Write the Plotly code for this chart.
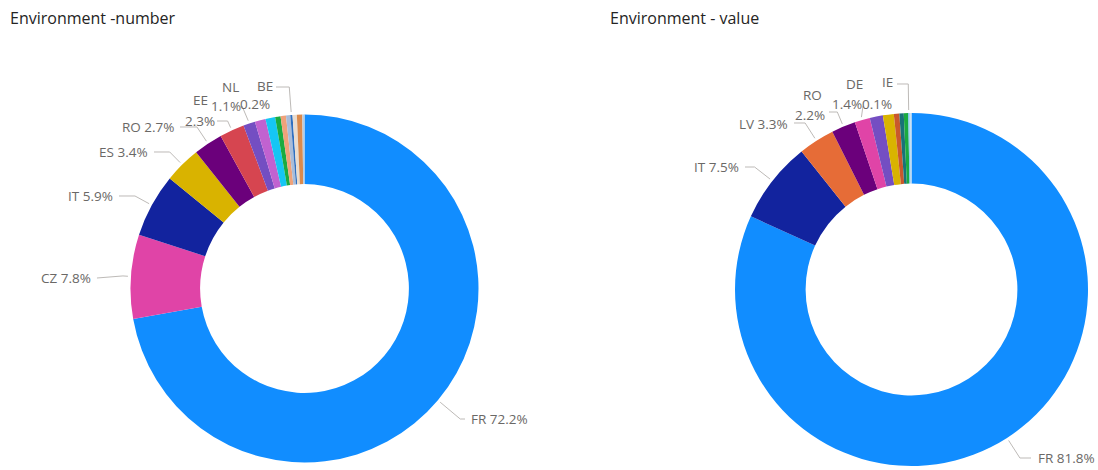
import math
import plotly.graph_objects as go

W, H = 1098, 470

# ---- Environment - number (share of projects, %) ----
num_codes = ["FR", "CZ", "IT", "ES", "RO", "EE", "NL", "PL", "PT", "SK",
             "HU", "AT", "BE", "LT", "LV", "SI"]
num_values = [72.2, 7.8, 5.9, 3.4, 2.7, 2.3, 1.1, 1.0, 0.9, 0.5,
              0.5, 0.4, 0.2, 0.4, 0.5, 0.2]
num_colors = ["#118DFF", "#E044A7", "#12239E", "#D9B300", "#6B007B", "#D64550",
              "#744EC2", "#C162D0", "#15C6F4", "#1AAB40", "#EFA27A", "#A9BCD8",
              "#2F6FC0", "#E9DCCF", "#DB8A4C", "#B9CCE0"]

# ---- Environment - value (share of amount, %) ----
val_codes = ["FR", "IT", "LV", "RO", "DE", "NL", "ES", "EE", "CZ", "AT",
             "IE", "BE", "LT"]
val_values = [81.8, 7.5, 3.3, 2.2, 1.4, 1.2, 1.0, 0.5, 0.4, 0.4,
              0.1, 0.1, 0.1]
val_colors = ["#118DFF", "#12239E", "#E66C37", "#6B007B", "#E044A7", "#744EC2",
              "#D9B300", "#C9582C", "#197278", "#1AAB40", "#6FC3F2", "#9FCBEA",
              "#C5DDF0"]

LABEL_COLOR = "#6A6866"
LINE_COLOR = "#BDBAB7"
FONT = "Segoe UI, Open Sans, sans-serif"

# ring geometry in pixels: centre x, centre y, outer radius
rings = [
    dict(cx=304.5, cy=288.5, r=174.0, codes=num_codes, values=num_values,
         colors=num_colors, title="Environment -number", title_x=8),
    dict(cx=911.5, cy=289.5, r=176.5, codes=val_codes, values=val_values,
         colors=val_colors, title="Environment - value", title_x=608),
]

# label placement: code -> (lines [(text-part, x, y)], xanchor, leader start (x, y), side)
placements = [
    {
        "FR": ([("{c} {v}", 469, 419)], "left", (465, 419), "R"),
        "CZ": ([("{c} {v}", 93, 278)], "right", (97, 278), "L"),
        "IT": ([("{c} {v}", 115, 196)], "right", (119, 196), "L"),
        "ES": ([("{c} {v}", 150, 152)], "right", (154, 152), "L"),
        "RO": ([("{c} {v}", 176, 127)], "right", (180, 127), "L"),
        "EE": ([("{c}", 200, 100), ("{v}", 200, 121)], "center", (217, 121), "L"),
        "NL": ([("{c}", 230, 87), ("{v}", 226, 106)], "center", (242, 106), "L"),
        "BE": ([("{c}", 265, 86), ("{v}", 255, 104)], "center", (276, 87), "L"),
    },
    {
        "FR": ([("{c} {v}", 1036, 458)], "left", (1031, 458), "R"),
        "IT": ([("{c} {v}", 741, 167)], "right", (745, 167), "L"),
        "LV": ([("{c} {v}", 790, 124)], "right", (794, 123), "L"),
        "RO": ([("{c}", 812, 95), ("{v}", 810, 115)], "center", (829, 112), "L"),
        "DE": ([("{c}", 854, 84), ("{v}", 847, 104)], "center", (863, 106), "L"),
        "IE": ([("{c}", 887, 82), ("{v}", 877, 104)], "center", (897, 84), "L"),
    },
]


def px_to_paper(x, y):
    return x / W, 1 - y / H


fig = go.Figure()
annotations = []
shapes = []

for ring, place in zip(rings, placements):
    cx, cy, R = ring["cx"], ring["cy"], ring["r"]
    fig.add_trace(go.Pie(
        labels=ring["codes"], values=ring["values"],
        marker=dict(colors=ring["colors"], line=dict(width=0)),
        hole=0.6, sort=False, direction="clockwise", rotation=0,
        textinfo="none", hoverinfo="label+percent", showlegend=False,
        domain=dict(x=[(cx - R) / W, (cx + R) / W],
                    y=[(H - cy - R) / H, (H - cy + R) / H]),
    ))

    total = sum(ring["values"])
    cum = 0.0
    for code, val in zip(ring["codes"], ring["values"]):
        mid = (cum + val / 2) / total * 2 * math.pi
        cum += val
        if code not in place:
            continue
        lines, anchor, start, side = place[code]
        vtxt = f"{val / total * 100:.1f}%"
        for part, x, y in lines:
            txt = part.format(c=code, v=vtxt)
            ax, ay = px_to_paper(x, y)
            annotations.append(dict(
                text=txt, x=ax, y=ay, xref="paper", yref="paper",
                xanchor=anchor, yanchor="middle", showarrow=False,
                font=dict(family=FONT, size=13.5, color=LABEL_COLOR)))

        # leader line: label -> elbow on the slice's radial direction -> ring edge
        s, c = math.sin(mid), math.cos(mid)
        sx, sy = start
        r_el = (sy - cy) / (-c) if abs(c) > 1e-6 else R + 10
        r_el = min(max(r_el, R + 8), R + 45)
        ex, ey = cx + r_el * s, cy - r_el * c
        px, py = cx + (R + 3) * s, cy - (R + 3) * c
        pts = [(sx, sy)]
        if (side == "L" and ex > sx + 2) or (side == "R" and ex < sx - 2):
            pts.append((ex, ey))
        pts.append((px, py))
        path = ""
        for i, (qx, qy) in enumerate(pts):
            fx, fy = px_to_paper(qx, qy)
            path += ("M" if i == 0 else "L") + f"{fx:.5f},{fy:.5f}"
        shapes.append(dict(type="path", path=path, xref="paper", yref="paper",
                           line=dict(color=LINE_COLOR, width=1)))

    tx, ty = px_to_paper(ring["title_x"], 18)
    annotations.append(dict(
        text=ring["title"], x=tx, y=ty, xref="paper", yref="paper",
        xanchor="left", yanchor="middle", showarrow=False,
        font=dict(family=FONT, size=16, color="#252423")))

fig.update_layout(
    width=W, height=H,
    margin=dict(l=0, r=0, t=0, b=0),
    paper_bgcolor="white", plot_bgcolor="white",
    annotations=annotations, shapes=shapes,
)

fig.write_html("out.html")
